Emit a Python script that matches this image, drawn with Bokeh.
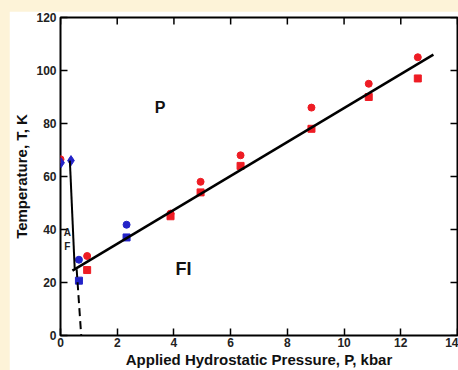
import math
from bokeh.plotting import figure
from bokeh.models import Range1d, FixedTicker, Label, GlobalInlineStyleSheet
from bokeh.embed import file_html
from bokeh.resources import INLINE

# ---- data ----
x_ticks = [0, 2, 4, 6, 8, 10, 12, 14]
y_ticks = [0, 20, 40, 60, 80, 100, 120]

red_circle_p = [0.0, 0.94, 3.88, 4.94, 6.35, 8.85, 10.87, 12.6]
red_circle_t = [66.5, 30.0, 46.0, 58.0, 68.0, 86.0, 95.0, 105.0]
red_square_p = [0.94, 3.88, 4.94, 6.35, 8.85, 10.87, 12.6]
red_square_t = [24.7, 45.0, 54.0, 64.0, 78.0, 90.0, 97.0]
blue_circle_p = [0.65, 2.33]
blue_circle_t = [28.6, 41.8]
blue_square_p = [0.65, 2.33]
blue_square_t = [20.7, 37.0]
blue_diamond_p = [0.02, 0.37]
blue_diamond_t = [65.2, 66.0]

af_line_p = [0.33, 0.50]
af_line_t = [66.0, 25.5]
fi_line_p = [0.42, 13.15]
fi_line_t = [24.5, 106.0]
dash_line_p = [0.57, 0.73]
dash_line_t = [25.0, 0.0]

region_text = ["P", "FI"]
region_p = [3.51, 4.34]
region_t = [86.0, 25.2]
af_text = ["A", "F"]
af_p = [0.24, 0.24]
af_t = [39.0, 33.5]

RED = "#EE1C24"
BLUE = "#2323C8"
FONT = "Liberation Sans"

x_min, x_max = x_ticks[0], x_ticks[-1]
y_min, y_max = y_ticks[0], y_ticks[-1]

p = figure(width=449, height=359, output_backend="svg", toolbar_location=None,
           x_range=Range1d(x_min, x_max), y_range=Range1d(y_min, y_max),
           min_border_left=51, min_border_right=1, min_border_top=6, min_border_bottom=35,
           border_fill_color="white", background_fill_color="white")
p.styles = {"margin-left": "9px", "margin-top": "11px"}
p.stylesheets = [GlobalInlineStyleSheet(
    css="html,body{margin:0;padding:0;background:#FDF3D8;overflow:hidden;}")]

p.grid.visible = False
p.outline_line_color = "black"
p.outline_line_width = 2
p.outline_line_alpha = 1.0

p.xaxis.ticker = FixedTicker(ticks=x_ticks)
p.yaxis.ticker = FixedTicker(ticks=y_ticks)
p.xaxis.axis_label = "Applied Hydrostatic Pressure, P, kbar"
p.yaxis.axis_label = "Temperature, T, K"
for ax in [p.xaxis[0], p.yaxis[0]]:
    ax.axis_line_color = None
    ax.major_tick_in = 7
    ax.major_tick_out = 0
    ax.major_tick_line_width = 1.5
    ax.major_tick_line_color = "black"
    ax.minor_tick_line_color = None
    ax.major_label_text_font = FONT
    ax.major_label_text_font_style = "bold"
    ax.major_label_text_font_size = "12px"
    ax.major_label_text_color = "#222222"
    ax.axis_label_text_font = FONT
    ax.axis_label_text_font_style = "bold"
    ax.axis_label_text_font_size = "15px"
    ax.axis_label_text_color = "#111111"
p.yaxis.major_label_standoff = 4
p.yaxis.axis_label_standoff = 3
p.xaxis.major_label_standoff = 2
p.xaxis.axis_label_standoff = 1

# inward ticks on the top and right edges (half of each dash is clipped by the frame)
p.scatter(x_ticks, [y_max] * len(x_ticks), marker="dash", size=14, angle=math.pi / 2,
          line_color="black", line_width=1.5)
p.scatter([x_max] * len(y_ticks), y_ticks, marker="dash", size=14,
          line_color="black", line_width=1.5)

# markers
p.scatter(red_circle_p, red_circle_t, marker="circle", size=7, color=RED)
p.scatter(red_square_p, red_square_t, marker="square", size=7, color=RED)
p.scatter(blue_diamond_p, blue_diamond_t, marker="diamond", size=10, color=BLUE)
p.scatter(blue_circle_p, blue_circle_t, marker="circle", size=7, color=BLUE)
p.scatter(blue_square_p, blue_square_t, marker="square", size=7, color=BLUE)

# phase boundaries
p.line(af_line_p, af_line_t, line_color="black", line_width=2)
p.line(fi_line_p, fi_line_t, line_color="black", line_width=2.5)
p.line(dash_line_p, dash_line_t, line_color="black", line_width=2, line_dash="8 5")

# region labels
for txt, x, y, size in zip(region_text, region_p, region_t, ["16px", "18px"]):
    p.add_layout(Label(x=x, y=y, text=txt, text_font=FONT, text_font_style="bold",
                       text_font_size=size, text_align="center", text_baseline="middle",
                       text_color="#111111"))
for txt, x, y in zip(af_text, af_p, af_t):
    p.add_layout(Label(x=x, y=y, text=txt, text_font=FONT, text_font_style="bold",
                       text_font_size="10px", text_align="center", text_baseline="middle",
                       text_color="#222222"))

open("out.html", "w").write(file_html(p, INLINE))
